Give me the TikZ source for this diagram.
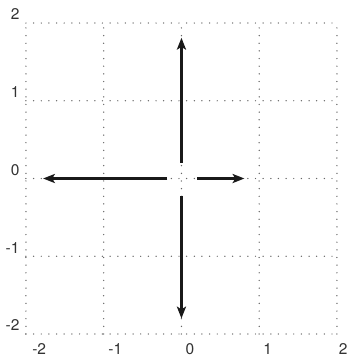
\documentclass[tikz,border=0pt]{standalone}
\usepackage{fontspec}
\setmainfont{TeX Gyre Heros}
\usetikzlibrary{arrows.meta}
\begin{document}
\begin{tikzpicture}[x=1.5cm,y=1.5cm,
  gridline/.style={black!60, line width=0.8pt, line cap=round, dash pattern=on 0pt off 4.2pt},
  vec/.style={black!90, line width=1.2pt, -{Stealth[length=6.5pt,width=5pt,inset=1.5pt]}},
  lbl/.style={font=\fontsize{8.5}{9}\selectfont, text=black!80, inner sep=0pt}]
\useasboundingbox (-2.334,-2.283) rectangle (2.180,2.296);
\foreach \v in {-2,-1,0,1,2} {
  \draw[gridline] (\v,-2) -- (\v,2);
  \draw[gridline] (-2,\v) -- (2,\v);
}
\foreach \v/\t in {-2/-2,-1/-1,0/0,1/1,2/2} {
  \node[lbl, anchor=east] (y\v) at (-2.08,\v+0.11) {\t};
}
\foreach \v/\t/\s in {-2/-2/0.17,-1/-1/0.15,0/0/0.11,1/1/0.11,2/2/0.08} {
  \node[lbl, anchor=north] (x\v) at (\v+\s,-2.12) {\t};
}
\coordinate (o) at (0,0);
\coordinate (l0) at (-0.18,0); \coordinate (l1) at (-1.78,0);
\coordinate (r0) at (0.2,0);   \coordinate (r1) at (0.81,0);
\coordinate (u0) at (0,0.2);   \coordinate (u1) at (0,1.81);
\coordinate (d0) at (0,-0.22); \coordinate (d1) at (0,-1.8);
\draw[vec] (l0) -- (l1);
\draw[vec] (r0) -- (r1);
\draw[vec] (u0) -- (u1);
\draw[vec] (d0) -- (d1);
\end{tikzpicture}
\end{document}
